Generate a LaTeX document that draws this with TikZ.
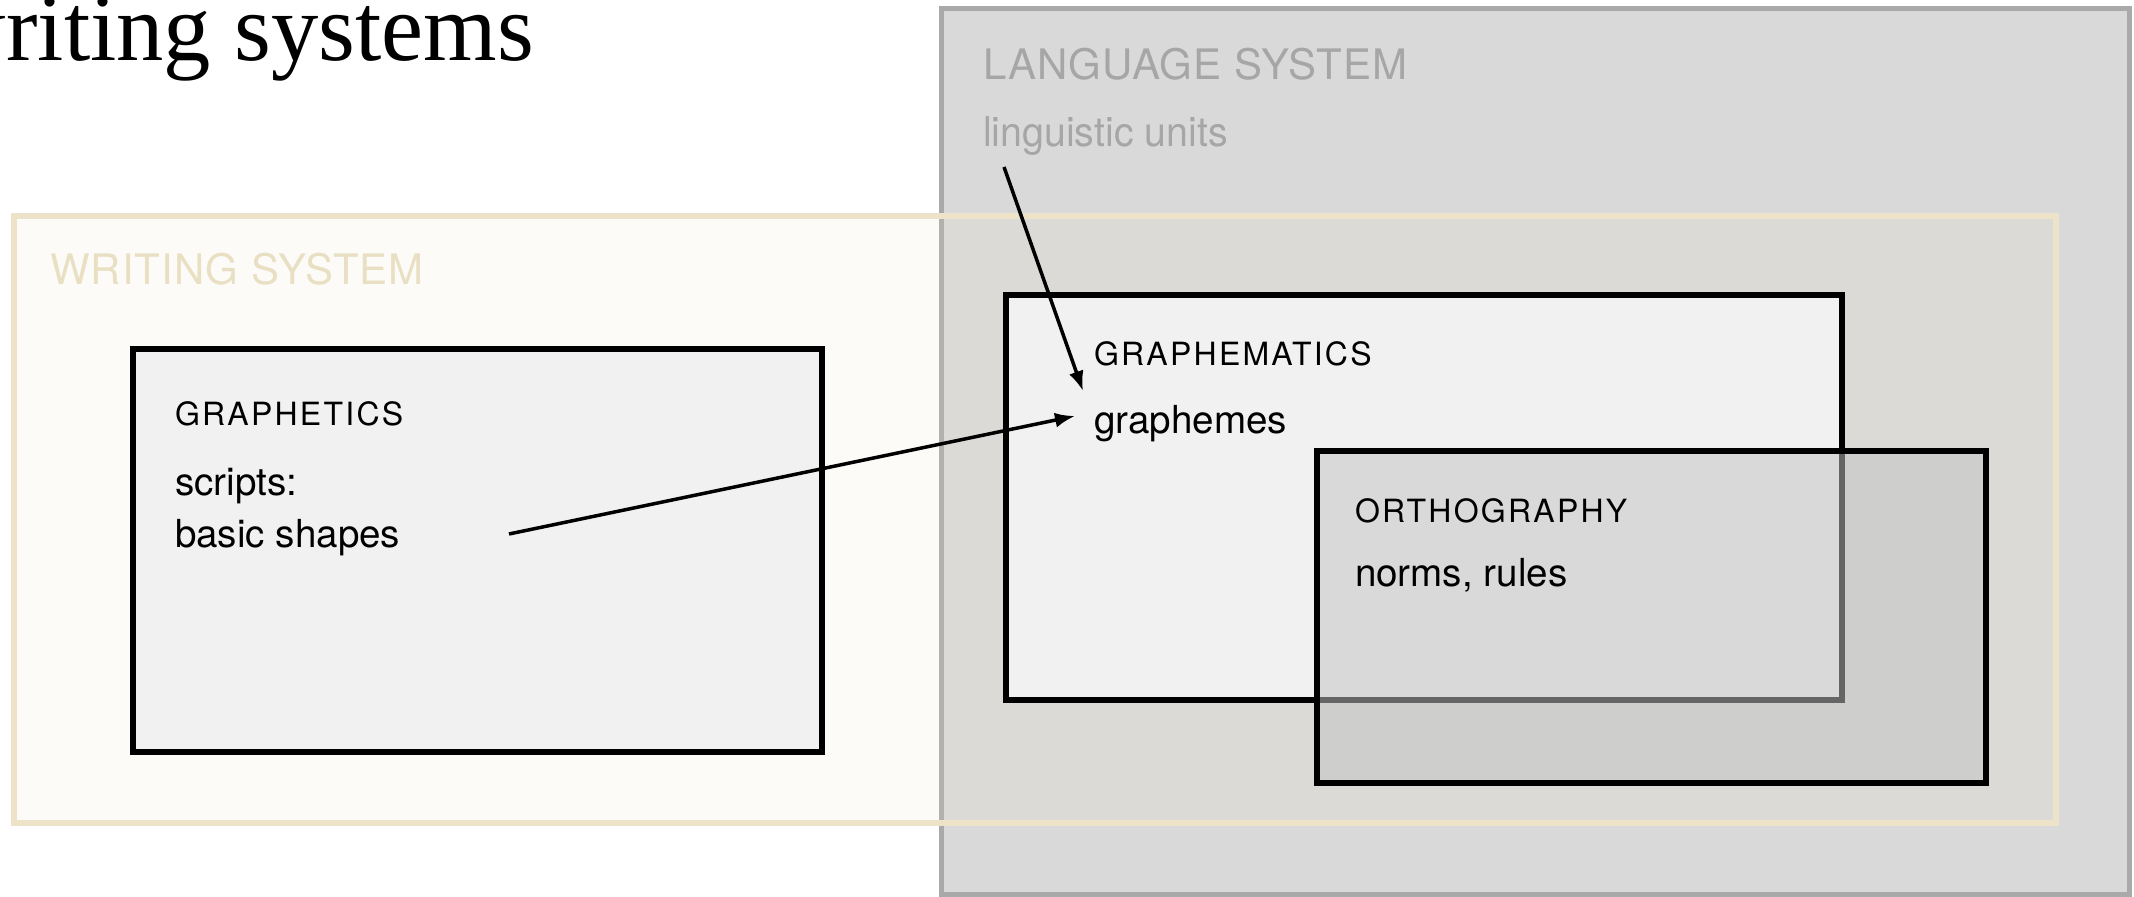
\documentclass[tikz,border=0pt]{standalone}
\usepackage{fontspec}
\usetikzlibrary{arrows.meta}
\newfontfamily\hv{TeX Gyre Heros}
\newfontfamily\hvlu[FakeStretch=0.96]{TeX Gyre Heros}
\newfontfamily\hvcaps[LetterSpace=7]{TeX Gyre Heros}
\newfontfamily\hvhead[LetterSpace=2.5]{TeX Gyre Heros}
\newfontfamily\ttlfont[FakeStretch=0.985]{Liberation Serif}
\definecolor{langfill}{HTML}{D9D9D9}
\definecolor{langline}{HTML}{A9A9A9}
\definecolor{langtext}{HTML}{A6A6A6}
\definecolor{beige}{HTML}{ECE3C9}
\definecolor{beigetext}{HTML}{E9DFC3}
\definecolor{boxfill}{HTML}{F1F1F1}
\definecolor{orthofill}{HTML}{C3C3C3}
\tikzset{
  langbox/.style={draw=langline, line width=2.5pt, fill=langfill},
  writbox/.style={draw=beige, line width=3pt, fill=beige, fill opacity=0.15},
  areabox/.style={draw=black, line width=2.75pt, fill=boxfill},
  orthobox/.style={draw=black, line width=2.75pt, fill=orthofill, fill opacity=0.52},
  lbl/.style={anchor=base west, inner sep=0pt, outer sep=0pt},
  capslbl/.style={lbl, font=\hvcaps\fontsize{16}{19}\selectfont},
  bodylbl/.style={lbl, font=\hv\fontsize{19.3}{26}\selectfont},
  headlbl/.style={lbl, font=\hvhead\fontsize{21}{25}\selectfont},
  conn/.style={-{Latex[length=10pt,width=7.5pt]}, line width=1.75pt, black}
}
\begin{document}
\begin{tikzpicture}[x=0.5pt,y=-0.5pt]
\useasboundingbox (0,0) rectangle (2134,897);
\clip (0,0) rectangle (2134,897);
% title
\node[lbl, font=\ttlfont\fontsize{48}{56}\selectfont] (title) at (-62,61) {writing systems};
% language system
\draw[langbox] (941,9) rectangle (2129,894);
% writing system
\draw[writbox] (13.5,216) rectangle (2056,823);
\node[headlbl, text=langtext] (lang) at (983,80) {LANGUAGE SYSTEM};
\node[lbl, font=\hvlu\fontsize{20.5}{25}\selectfont, text=langtext] (lu) at (983,147) {linguistic units};
\node[headlbl, text=beigetext] (writ) at (50,285) {WRITING SYSTEM};
% inner boxes
\draw[areabox] (133,349) rectangle (822,752);
\draw[areabox] (1006,295) rectangle (1842,700);
\draw[orthobox] (1317,451) rectangle (1986,783);
% texts
\node[capslbl] (graphetics) at (175,426) {GRAPHETICS};
\node[bodylbl] (scripts) at (175,495) {scripts:};
\node[bodylbl] (basic) at (175,547) {basic shapes};
\node[capslbl] (graphematics) at (1094,366) {GRAPHEMATICS};
\node[bodylbl] (graphemes) at (1094,434) {graphemes};
\node[capslbl] (ortho) at (1355,523) {ORTHOGRAPHY};
\node[bodylbl] (norms) at (1355,586) {norms, rules};
% connectors
\coordinate (luStart) at (1004,167);
\coordinate (tipA) at (1083,391);
\coordinate (bsStart) at (509,534);
\coordinate (tipB) at (1075,416);
\draw[conn] (luStart) -- (tipA);
\draw[conn] (bsStart) -- (tipB);
\end{tikzpicture}
\end{document}
